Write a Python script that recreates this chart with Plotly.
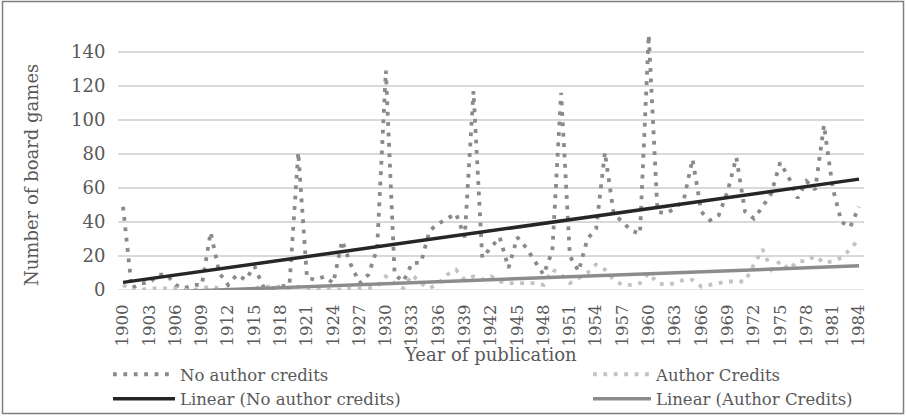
import numpy as np
import plotly.graph_objects as go

years = list(range(1900, 1985))

no_author = [49, 1, 4, 4, 9, 9, 3, 1, 3, 3,
             34, 10, 3, 9, 6, 14, 2, 1, 2, 3,
             81, 7, 6, 8, 4, 29, 15, 4, 9, 24,
             129, 9, 5, 16, 16, 35, 39, 42, 45, 31,
             117, 19, 25, 31, 13, 31, 25, 17, 9, 23,
             116, 20, 11, 30, 36, 81, 45, 40, 35, 33,
             150, 46, 45, 48, 53, 77, 46, 41, 44, 58,
             78, 46, 42, 49, 57, 75, 66, 54, 64, 59,
             97, 60, 40, 37, 49]

author = [3, 0, 0, 1, 1, 1, 1, 0, 0, 1,
          2, 1, 0, 0, 0, 1, 2, 2, 2, 1,
          2, 0, 1, 0, 1, 0, 1, 1, 1, 2,
          8, 4, 1, 9, 4, 1, 4, 9, 12, 6,
          8, 6, 8, 5, 4, 4, 4, 4, 3, 12,
          9, 4, 7, 10, 15, 12, 6, 3, 3, 4,
          10, 4, 3, 4, 6, 6, 2, 3, 4, 5,
          5, 5, 15, 24, 12, 17, 12, 17, 17, 20,
          16, 17, 19, 24, 30]

tick_years = list(range(1900, 1985, 3))
tick_labels = [str(y) for y in tick_years]
y_ticks = [0, 20, 40, 60, 80, 100, 120, 140]

x = np.array(years, dtype=float)
pn = np.polyfit(x, np.array(no_author, dtype=float), 1)
pa = np.polyfit(x, np.array(author, dtype=float), 1)
trend_n = np.polyval(pn, x)
trend_a = np.polyval(pa, x)

FONT = "DejaVu Serif"
TXT = "#595959"

# layout geometry (px)
W, H = 906, 417
L, R, T, B = 118, 42, 35, 127
PW, PH = W - L - R, H - T - B


def px2x(px):
    return (px - L) / PW


def py2y(py):
    return (H - B - py) / PH


fig = go.Figure()
fig.add_trace(go.Scatter(x=years, y=no_author, mode="lines", name="No author credits",
                         line=dict(color="#8a8a8a", width=3.8, dash="3.8px,6.6px"),
                         legend="legend"))
fig.add_trace(go.Scatter(x=years, y=author, mode="lines", name="Author Credits",
                         line=dict(color="#c2c2c2", width=3.8, dash="3.8px,6.6px"),
                         legend="legend2"))
fig.add_trace(go.Scatter(x=years, y=trend_n, mode="lines", name="Linear (No author credits)",
                         line=dict(color="#262626", width=3.5), legend="legend"))
fig.add_trace(go.Scatter(x=years, y=trend_a, mode="lines", name="Linear (Author Credits)",
                         line=dict(color="#8c8c8c", width=3.5), legend="legend2"))

fig.update_layout(
    width=W, height=H,
    margin=dict(l=L, r=R, t=T, b=B, pad=0, autoexpand=False),
    paper_bgcolor="white", plot_bgcolor="white",
    font=dict(family=FONT, color=TXT, size=17),
    xaxis=dict(range=[1899.43, 1984.57], tickmode="array", tickvals=tick_years,
               ticktext=tick_labels, tickangle=-90, showgrid=False, zeroline=False,
               showline=False, ticks="outside", ticklen=7, tickcolor="rgba(0,0,0,0)",
               automargin=False,
               tickfont=dict(family=FONT, color=TXT, size=16.5)),
    yaxis=dict(range=[0, 150], tickmode="array", tickvals=y_ticks,
               showgrid=True, gridcolor="#d9d9d9", gridwidth=1.5, zeroline=False,
               showline=False, ticks="outside", ticklen=8, tickcolor="rgba(0,0,0,0)",
               automargin=False,
               tickfont=dict(family=FONT, color=TXT, size=18)),
    legend=dict(x=px2x(108), y=py2y(357), xanchor="left", yanchor="top",
                orientation="v", itemwidth=62, font=dict(family=FONT, color=TXT, size=16.5),
                bgcolor="rgba(0,0,0,0)", tracegroupgap=0),
    legend2=dict(x=px2x(588), y=py2y(357), xanchor="left", yanchor="top",
                 orientation="v", itemwidth=58, font=dict(family=FONT, color=TXT, size=16.5),
                 bgcolor="rgba(0,0,0,0)", tracegroupgap=0),
    showlegend=True,
    annotations=[
        dict(text="Year of publication", x=px2x(490), y=py2y(354), xref="paper", yref="paper",
             xanchor="center", yanchor="middle",
             showarrow=False, font=dict(family=FONT, color=TXT, size=18)),
        dict(text="Number of board games", x=px2x(31), y=py2y(175), xref="paper", yref="paper",
             xanchor="center", yanchor="middle",
             showarrow=False, textangle=-90, font=dict(family=FONT, color=TXT, size=18)),
    ],
    shapes=[
        dict(type="rect", xref="paper", yref="paper", x0=px2x(2.5), x1=px2x(903.5),
             y0=py2y(413.5), y1=py2y(1.5), line=dict(color="#7f7f7f", width=1.5),
             fillcolor="rgba(0,0,0,0)", layer="below"),
        dict(type="line", xref="paper", yref="y", x0=0, x1=1, y0=0, y1=0,
             line=dict(color="#d9d9d9", width=1.5), layer="below"),
    ],
)

fig.write_html(
    "out.html",
    config={"displayModeBar": False},
    post_script="document.body.style.margin='0';document.body.style.overflow='hidden';",
)
